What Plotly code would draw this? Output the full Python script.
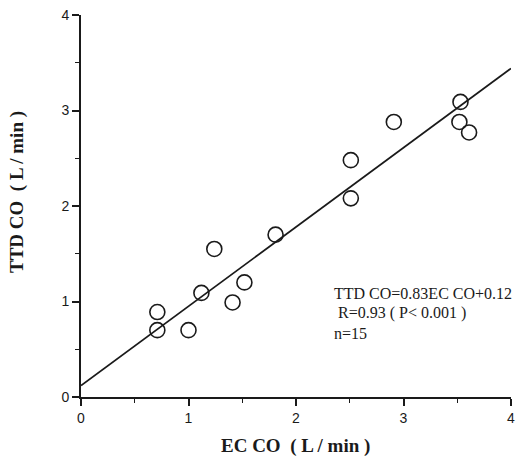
import plotly.graph_objects as go

ec_co = [0.71, 0.71, 1.00, 1.12, 1.24, 1.41, 1.52, 1.81, 2.51, 2.51, 2.91, 3.53, 3.52, 3.61]
ttd_co = [0.89, 0.70, 0.70, 1.09, 1.55, 0.99, 1.20, 1.70, 2.48, 2.08, 2.88, 3.09, 2.88, 2.77]
slope = 0.83
intercept = 0.12
fit_x = [0, 4]
tick_vals = [0, 1, 2, 3, 4]
eq_lines = ["TTD CO=0.83EC CO+0.12", " R=0.93 ( P< 0.001 )", "n=15"]

fig = go.Figure()
fig.add_trace(go.Scatter(
    x=fit_x, y=[slope * v + intercept for v in fit_x], mode="lines",
    line=dict(color="#1a1a1a", width=1.8), showlegend=False, hoverinfo="skip",
    cliponaxis=False))
fig.add_trace(go.Scatter(
    x=ec_co, y=ttd_co, mode="markers",
    marker=dict(symbol="circle-open", size=15, color="#1a1a1a", line=dict(width=1.6)),
    showlegend=False, cliponaxis=False))

axis_common = dict(
    range=[0, 4], tickvals=tick_vals, showgrid=False, zeroline=False,
    showline=True, linecolor="#1a1a1a", linewidth=1.8, automargin=False,
    ticks="outside", ticklen=7, tickwidth=1.5, tickcolor="#1a1a1a",
    tickfont=dict(family="Liberation Sans", size=14, color="#1a1a1a"),
    minor=dict(dtick=0.5, ticks="outside", ticklen=4, tickwidth=1.2, tickcolor="#1a1a1a"),
)
fig.update_xaxes(**axis_common)
fig.update_yaxes(**axis_common)

L, R, T, B = 81, 8, 15, 64
W, H = 519, 461
pw = W - L - R
ph = H - T - B


def px(x):
    return (x - L) / pw


def py(y):
    return (H - B - y) / ph


annotations = []
for i, t in enumerate(eq_lines):
    annotations.append(dict(
        x=px(332), y=py(293 + 20 * i), xref="paper", yref="paper", text=t, showarrow=False,
        font=dict(family="Liberation Serif", size=16, color="#1a1a1a"),
        xanchor="left", yanchor="middle"))

annotations.append(dict(
    x=px(295), y=py(446), xref="paper", yref="paper",
    text="<b>EC CO  ( L / min )</b>", showarrow=False,
    font=dict(family="Liberation Serif", size=19, color="#1a1a1a"),
    xanchor="center", yanchor="middle"))
annotations.append(dict(
    x=px(17), y=py(192), xref="paper", yref="paper",
    text="<b>TTD CO  ( L / min )</b>", showarrow=False, textangle=-90,
    font=dict(family="Liberation Serif", size=19, color="#1a1a1a"),
    xanchor="center", yanchor="middle"))

fig.update_layout(
    width=W, height=H,
    margin=dict(l=L, r=R, t=T, b=B, autoexpand=False),
    plot_bgcolor="white", paper_bgcolor="white",
    annotations=annotations,
)

fig.write_html("out.html", config={"displayModeBar": False},
               post_script="document.body.style.margin='0';document.body.style.overflow='hidden';")
